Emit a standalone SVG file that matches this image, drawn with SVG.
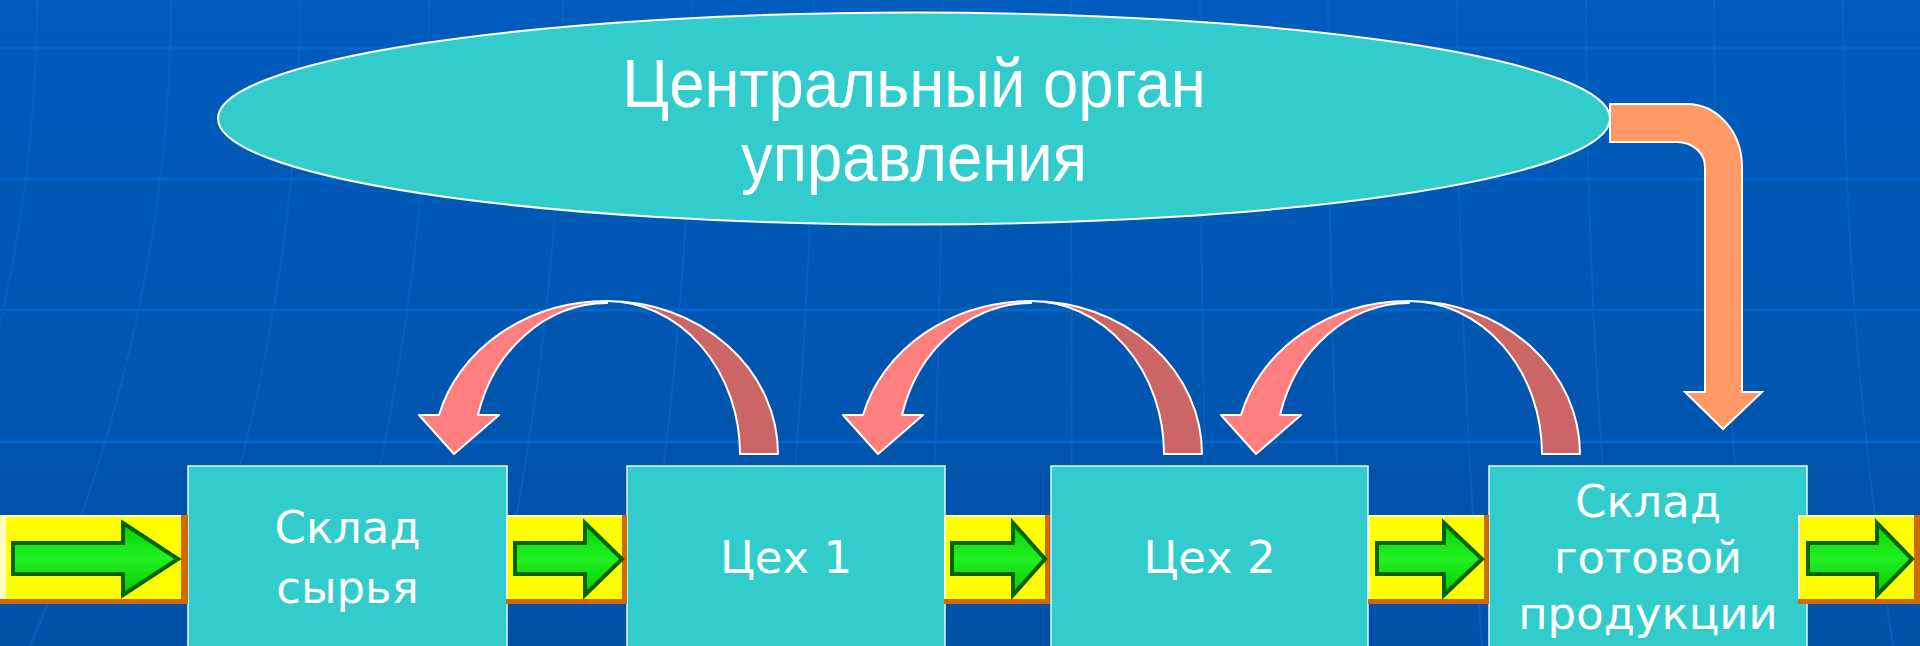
<svg xmlns="http://www.w3.org/2000/svg" width="1920" height="646" viewBox="0 0 1920 646">
<defs>
<linearGradient id="bg" x1="0" y1="0" x2="0" y2="1">
<stop offset="0" stop-color="#005CBD"/>
<stop offset="1" stop-color="#0051A6"/>
</linearGradient>
<linearGradient id="grn" x1="0" y1="0" x2="0" y2="1">
<stop offset="0" stop-color="#00D400"/>
<stop offset="0.5" stop-color="#22F022"/>
<stop offset="1" stop-color="#00CC00"/>
</linearGradient>
<style>
.hl{stroke:#0066CC;stroke-width:3;fill:none}
.vl{stroke:#0A66CC;stroke-width:2;fill:none;opacity:0.6}
.box{fill:#33CCCC;stroke:#E8F4F4;stroke-width:1.5}
.txt{fill:#FFFFFF;font-family:"DejaVu Sans","Noto Sans",sans-serif;font-size:45px;text-anchor:middle}
.etxt{fill:#FFFFFF;font-family:"Liberation Sans",Arial,sans-serif;font-size:69px;text-anchor:middle}
.yel{fill:#FFFF00}
.yhl{fill:#FFFFC0}
.yor{fill:#D06A00}
.garr{fill:url(#grn);stroke:#006400;stroke-width:4;stroke-linejoin:miter}
.cdark{fill:#CC6666;stroke:#FFFFFF;stroke-width:2;stroke-linejoin:round}
.clight{fill:#FF7F7F;stroke:#FFFFFF;stroke-width:2;stroke-linejoin:round}
.orng{fill:#FF9966;stroke:#FFFFFF;stroke-width:2;stroke-linejoin:miter}
</style>
</defs>
<g id="background">
<rect x="0" y="0" width="1920" height="646" fill="url(#bg)"/>
<path class="vl" d="M37 0 Q37 323 -110 646"/>
<path class="vl" d="M171 0 Q171 323 30 646"/>
<path class="vl" d="M300 0 Q300 323 185 646"/>
<path class="vl" d="M429 0 Q429 323 335 646"/>
<path class="vl" d="M563 0 Q563 323 490 646"/>
<path class="vl" d="M692 0 Q692 323 638 646"/>
<path class="vl" d="M814 0 Q814 323 778 646"/>
<path class="vl" d="M943 0 Q943 323 927 646"/>
<path class="vl" d="M1071 0 Q1071 323 1072 646"/>
<path class="vl" d="M1200 0 Q1200 323 1210 646"/>
<path class="vl" d="M1328 0 Q1328 323 1345 646"/>
<path class="vl" d="M1457 0 Q1457 323 1482 646"/>
<path class="vl" d="M1586 0 Q1586 323 1618 646"/>
<path class="vl" d="M1714 0 Q1714 323 1755 646"/>
<path class="vl" d="M1843 0 Q1843 323 1893 646"/>
<line class="hl" x1="0" y1="48" x2="1920" y2="48"/>
<line class="hl" x1="0" y1="179" x2="1920" y2="179"/>
<line class="hl" x1="0" y1="310" x2="1920" y2="310"/>
<line class="hl" x1="0" y1="442" x2="1920" y2="442"/>
<line class="hl" x1="0" y1="573" x2="1920" y2="573"/>
</g>
<g id="node-central">
<ellipse cx="914" cy="118.5" rx="696" ry="106" fill="#33CCCC" stroke="#FFFFFF" stroke-width="2"/>
<text class="etxt" transform="translate(914 107) scale(0.92 1)">Центральный орган</text>
<text class="etxt" transform="translate(914 181) scale(0.92 1)">управления</text>
</g>
<g id="node-sklad-syrya">
<rect class="box" x="188" y="466" width="319" height="200"/>
<text class="txt" x="347.5" y="543">Склад</text>
<text class="txt" x="347.5" y="603">сырья</text>
</g>
<g id="node-ceh1">
<rect class="box" x="627" y="466" width="318" height="200"/>
<text class="txt" x="786" y="573">Цех 1</text>
</g>
<g id="node-ceh2">
<rect class="box" x="1051" y="466" width="317" height="200"/>
<text class="txt" x="1209.5" y="573">Цех 2</text>
</g>
<g id="node-sklad-gotovoy">
<rect class="box" x="1489" y="466" width="318" height="200"/>
<text class="txt" x="1648" y="517">Склад</text>
<text class="txt" x="1648" y="573">готовой</text>
<text class="txt" x="1648" y="629">продукции</text>
</g>
<g id="connectors">
<g id="flow-a">
<rect class="yel" x="0" y="515" width="188" height="89"/>
<rect class="yhl" x="0" y="515" width="184" height="2"/>
<rect class="yhl" x="0" y="515" width="6" height="86"/>
<rect class="yor" x="181" y="515" width="7" height="89"/>
<rect class="yor" x="0" y="599" width="188" height="5"/>
<polygon class="garr" points="13,543 123,543 123,523 178,559 123,595 123,574 13,574"/>
</g>
<g id="flow-b">
<rect class="yel" x="506" y="515" width="121" height="89"/>
<rect class="yhl" x="506" y="515" width="117" height="2"/>
<rect class="yhl" x="506" y="515" width="2" height="86"/>
<rect class="yor" x="622" y="515" width="5" height="89"/>
<rect class="yor" x="506" y="599" width="121" height="5"/>
<polygon class="garr" points="515,543 585,543 585,523 622,559 585,595 585,574 515,574"/>
</g>
<g id="flow-c">
<rect class="yel" x="944" y="515" width="106" height="89"/>
<rect class="yhl" x="944" y="515" width="102" height="2"/>
<rect class="yhl" x="944" y="515" width="2" height="86"/>
<rect class="yor" x="1045" y="515" width="5" height="89"/>
<rect class="yor" x="944" y="599" width="106" height="5"/>
<polygon class="garr" points="952,543 1013,543 1013,523 1045,559 1013,595 1013,574 952,574"/>
</g>
<g id="flow-d">
<rect class="yel" x="1368" y="515" width="121" height="89"/>
<rect class="yhl" x="1368" y="515" width="117" height="2"/>
<rect class="yhl" x="1368" y="515" width="2" height="86"/>
<rect class="yor" x="1484" y="515" width="5" height="89"/>
<rect class="yor" x="1368" y="599" width="121" height="5"/>
<polygon class="garr" points="1377,543 1444,543 1444,523 1482,559 1444,595 1444,574 1377,574"/>
</g>
<g id="flow-e">
<rect class="yel" x="1798" y="515" width="122" height="89"/>
<rect class="yhl" x="1798" y="515" width="118" height="2"/>
<rect class="yhl" x="1798" y="515" width="2" height="86"/>
<rect class="yor" x="1914" y="515" width="6" height="89"/>
<rect class="yor" x="1798" y="599" width="122" height="5"/>
<polygon class="garr" points="1808,543 1877,543 1877,523 1912,559 1877,595 1877,574 1808,574"/>
</g>
<g id="feedback-1">
<path class="cdark" d="M778 454 A171 153 0 0 0 607 301 A133 153 0 0 1 740 454 Z"/>
<path class="clight" d="M607 301 A174 153 0 0 0 439 415 L419 415 L454 454 L499 415 L478 415 A134 151 0 0 1 607 303 Z"/>
</g>
<g id="feedback-2" transform="translate(424 0)">
<path class="cdark" d="M778 454 A171 153 0 0 0 607 301 A133 153 0 0 1 740 454 Z"/>
<path class="clight" d="M607 301 A174 153 0 0 0 439 415 L419 415 L454 454 L499 415 L478 415 A134 151 0 0 1 607 303 Z"/>
</g>
<g id="feedback-3" transform="translate(802 0)">
<path class="cdark" d="M778 454 A171 153 0 0 0 607 301 A133 153 0 0 1 740 454 Z"/>
<path class="clight" d="M607 301 A174 153 0 0 0 439 415 L419 415 L454 454 L499 415 L478 415 A134 151 0 0 1 607 303 Z"/>
</g>
<g id="control-arrow">
<path class="orng" d="M1610 104 L1687 104 A55 63 0 0 1 1742 167 L1742 392 L1762 392 L1723 429 L1685 392 L1705 392 L1705 167 A28 25 0 0 0 1677 142 L1610 142 Z"/>
</g>
</g>
</svg>
